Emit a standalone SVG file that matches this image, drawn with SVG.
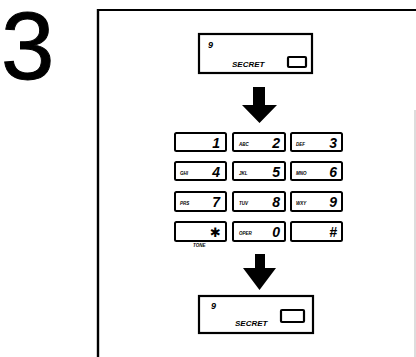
<svg xmlns="http://www.w3.org/2000/svg" width="416" height="357" viewBox="0 0 416 357">
<style>
.box{fill:#fff;stroke:#000;stroke-width:2.2}
.key{fill:#fff;stroke:#000;stroke-width:2;rx:1.5}
.dig{font-family:"Liberation Sans",Arial,sans-serif;font-weight:bold;font-style:italic;font-size:14px;text-anchor:end}
.sm{font-family:"Liberation Sans",Arial,sans-serif;font-weight:bold;font-style:italic;font-size:4.5px}
.sec{font-family:"Liberation Sans",Arial,sans-serif;font-weight:bold;font-style:italic;font-size:8px}
.n9{font-family:"Liberation Sans",Arial,sans-serif;font-weight:bold;font-style:italic;font-size:9px}
.arr{fill:#000}
</style>
<rect width="416" height="357" fill="#fff"/>
<text x="1" y="79" font-family="Liberation Sans,Arial,sans-serif" font-size="96" stroke="#000" stroke-width="1">3</text>
<g id="frame">
<line x1="97" y1="10" x2="416" y2="10" stroke="#000" stroke-width="2.2"/>
<line x1="98" y1="9" x2="98" y2="357" stroke="#000" stroke-width="2.4"/>
<line x1="415" y1="110" x2="415" y2="357" stroke="#bbb" stroke-width="1"/>
</g>
<g id="display1">
<rect class="box" x="199" y="34" width="113" height="39"/>
<text class="n9" x="208" y="48">9</text>
<text class="sec" x="232" y="67">SECRET</text>
<rect x="288" y="57" width="18" height="10" fill="#fff" stroke="#000" stroke-width="2.2" rx="1"/>
</g>
<g id="connectors">
<polygon class="arr" points="253,87 265,87 265,105 277,105 259.5,123 242,105 253,105"/>
<polygon class="arr" points="255,254 265,254 265,268 276,268 259.5,290 243,268 255,268"/>
</g>
<g id="keypad">
<g id="k1"><rect class="key" x="175" y="133" width="51" height="18"/><text class="dig" x="220" y="148">1</text></g>
<g id="k2"><rect class="key" x="233" y="133" width="52" height="18"/><text class="sm" x="239" y="146">ABC</text><text class="dig" x="280" y="148">2</text></g>
<g id="k3"><rect class="key" x="291" y="133" width="51" height="18"/><text class="sm" x="296" y="146">DEF</text><text class="dig" x="337" y="148">3</text></g>
<g id="k4"><rect class="key" x="175" y="162" width="51" height="18"/><text class="sm" x="180" y="175">GHI</text><text class="dig" x="220" y="177">4</text></g>
<g id="k5"><rect class="key" x="233" y="162" width="52" height="18"/><text class="sm" x="239" y="175">JKL</text><text class="dig" x="280" y="177">5</text></g>
<g id="k6"><rect class="key" x="291" y="162" width="51" height="18"/><text class="sm" x="296" y="175">MNO</text><text class="dig" x="337" y="177">6</text></g>
<g id="k7"><rect class="key" x="175" y="192" width="51" height="19"/><text class="sm" x="180" y="205">PRS</text><text class="dig" x="220" y="207">7</text></g>
<g id="k8"><rect class="key" x="233" y="192" width="52" height="19"/><text class="sm" x="239" y="205">TUV</text><text class="dig" x="280" y="207">8</text></g>
<g id="k9"><rect class="key" x="291" y="192" width="51" height="19"/><text class="sm" x="296" y="205">WXY</text><text class="dig" x="337" y="207">9</text></g>
<g id="kstar"><rect class="key" x="175" y="222" width="51" height="19"/><text x="221" y="237" font-family="DejaVu Sans,sans-serif" font-size="13" text-anchor="end">✱</text><text class="sm" x="193" y="247">TONE</text></g>
<g id="k0"><rect class="key" x="233" y="222" width="52" height="19"/><text class="sm" x="239" y="235">OPER</text><text class="dig" x="280" y="237">0</text></g>
<g id="khash"><rect class="key" x="291" y="222" width="51" height="19"/><text class="dig" x="337" y="237">#</text></g>
</g>
<g id="display2">
<rect class="box" x="199" y="296" width="114" height="37"/>
<text class="n9" x="211" y="309">9</text>
<text class="sec" x="235" y="326">SECRET</text>
<rect x="281" y="310" width="23" height="12" fill="#fff" stroke="#000" stroke-width="2.2" rx="1"/>
</g>
</svg>
